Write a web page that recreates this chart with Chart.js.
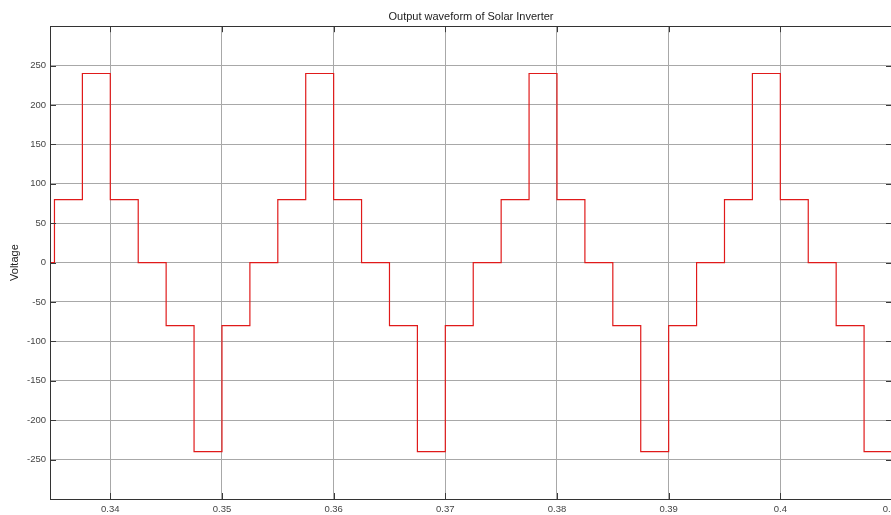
<!DOCTYPE html>
<html>
<head>
<meta charset="utf-8">
<script src="https://cdn.jsdelivr.net/npm/chart.js@4"></script>
<style>
  html, body { margin: 0; padding: 0; background: #fff; overflow: hidden; }
  #wrap { width: 900px; height: 515px; }
</style>
</head>
<body>
<div id="wrap"><canvas id="c" width="900" height="515"></canvas></div>
<script>
// ---- data ----
const chartTitle = 'Output waveform of Solar Inverter';
const yAxisTitle = 'Voltage';
// switching instants (s) and the output level (V) that starts at each instant
const times = [0.3346, 0.335, 0.3375, 0.34, 0.3425, 0.345, 0.3475, 0.35, 0.3525, 0.355,
               0.3575, 0.36, 0.3625, 0.365, 0.3675, 0.37, 0.3725, 0.375, 0.3775, 0.38,
               0.3825, 0.385, 0.3875, 0.39, 0.3925, 0.395, 0.3975, 0.40, 0.4025, 0.405,
               0.4075, 0.41];
const volts = [0, 80, 240, 80, 0, -80, -240, -80, 0, 80,
               240, 80, 0, -80, -240, -80, 0, 80, 240, 80,
               0, -80, -240, -80, 0, 80, 240, 80, 0, -80,
               -240, -240];
const xTicks = [0.34, 0.35, 0.36, 0.37, 0.38, 0.39, 0.40, 0.41];
const xTickLabels = ['0.34', '0.35', '0.36', '0.37', '0.38', '0.39', '0.4', '0.41'];
const yTicks = [-250, -200, -150, -100, -50, 0, 50, 100, 150, 200, 250];
const yTickLabels = ['-250', '-200', '-150', '-100', '-50', '0', '50', '100', '150', '200', '250'];
const xMin = 0.3346, xMax = 0.41, yMin = -300, yMax = 300;

const points = times.map((t, i) => ({ x: t, y: volts[i] }));

const FONT = "'Liberation Sans', Arial, Helvetica, sans-serif";

// box + inward ticks like a MATLAB axes
const boxPlugin = {
  id: 'box',
  afterDraw(chart) {
    const { ctx, chartArea: a, scales } = chart;
    ctx.save();
    ctx.strokeStyle = '#3a3a3a';
    ctx.lineWidth = 1;
    const tl = 6;
    ctx.beginPath();
    scales.x.ticks.forEach(t => {
      const px = Math.round(scales.x.getPixelForValue(t.value)) + 0.5;
      ctx.moveTo(px, a.bottom); ctx.lineTo(px, a.bottom - tl);
      ctx.moveTo(px, a.top); ctx.lineTo(px, a.top + tl);
    });
    scales.y.ticks.forEach(t => {
      const py = Math.round(scales.y.getPixelForValue(t.value)) + 0.5;
      ctx.moveTo(a.left, py); ctx.lineTo(a.left + tl, py);
      ctx.moveTo(a.right, py); ctx.lineTo(a.right - tl, py);
    });
    ctx.stroke();
    ctx.strokeStyle = '#333';
    ctx.strokeRect(Math.round(a.left) + 0.5, Math.round(a.top) + 0.5,
                   Math.round(a.right - a.left), Math.round(a.bottom - a.top));
    ctx.restore();
  }
};

new Chart(document.getElementById('c'), {
  type: 'line',
  data: {
    datasets: [{
      data: points,
      stepped: true,
      borderColor: '#e01a1a',
      borderWidth: 1.2,
      pointRadius: 0,
      fill: false,
      tension: 0
    }]
  },
  options: {
    responsive: false,
    animation: false,
    events: [],
    layout: { padding: { left: 0, right: 8, top: 0, bottom: 0 } },
    plugins: {
      legend: { display: false },
      tooltip: { enabled: false },
      title: {
        display: true,
        text: chartTitle,
        fullSize: false,
        color: '#222',
        font: { family: FONT, size: 11, weight: 'normal', lineHeight: 1.2 },
        padding: { top: 10, bottom: 3 }
      }
    },
    scales: {
      x: {
        type: 'linear',
        min: xMin,
        max: xMax,
        afterBuildTicks(s) { s.ticks = xTicks.map(v => ({ value: v })); },
        afterFit(s) { s.height = 16; s.paddingLeft = 0; s.paddingRight = 0; },
        grid: { color: '#a8a8a8', lineWidth: 1, drawTicks: false },
        border: { display: false },
        ticks: {
          padding: 5,
          maxRotation: 0,
          autoSkip: false,
          color: '#444',
          font: { family: FONT, size: 9.5 },
          callback(v) { const i = xTicks.findIndex(t => Math.abs(t - v) < 1e-9); return i >= 0 ? xTickLabels[i] : ''; }
        }
      },
      y: {
        type: 'linear',
        min: yMin,
        max: yMax,
        afterBuildTicks(s) { s.ticks = yTicks.map(v => ({ value: v })); },
        afterFit(s) { s.width = 50; s.paddingTop = 0; s.paddingBottom = 0; },
        grid: { color: '#a8a8a8', lineWidth: 1, drawTicks: false },
        border: { display: false },
        title: {
          display: true,
          text: yAxisTitle,
          color: '#222',
          font: { family: FONT, size: 11, lineHeight: 1.2 },
          padding: { top: 8, bottom: 0 }
        },
        ticks: {
          padding: 4,
          autoSkip: false,
          color: '#444',
          font: { family: FONT, size: 9.5 },
          callback(v) { const i = yTicks.indexOf(v); return i >= 0 ? yTickLabels[i] : ''; }
        }
      }
    }
  },
  plugins: [boxPlugin]
});
</script>
</body>
</html>
